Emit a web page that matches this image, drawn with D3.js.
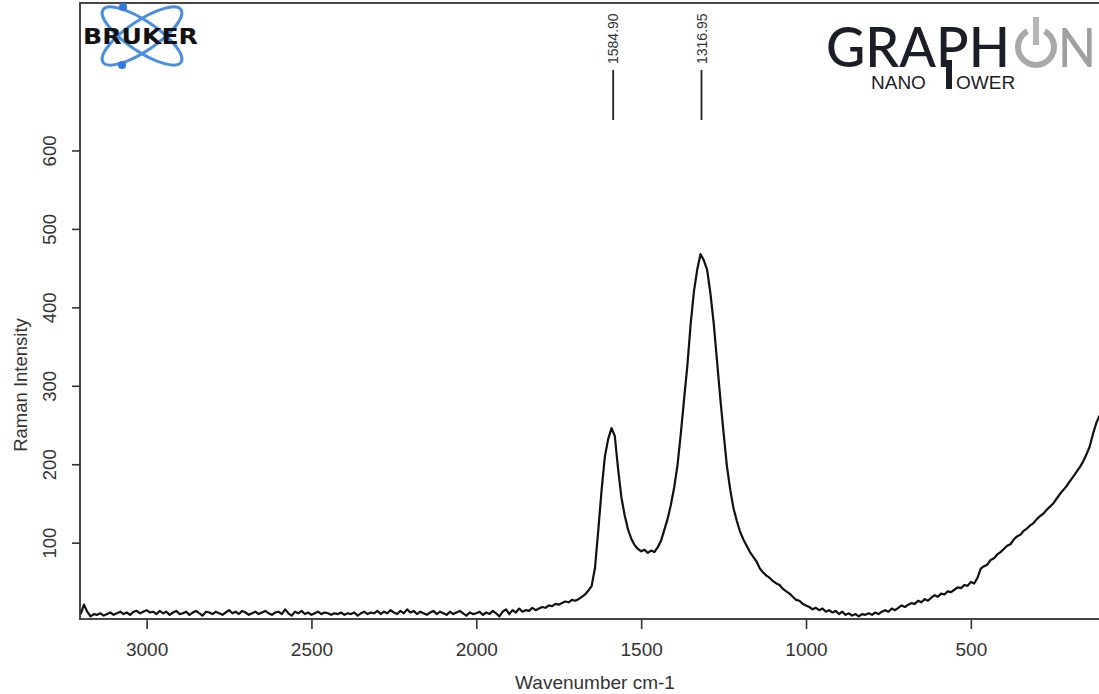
<!DOCTYPE html>
<html>
<head>
<meta charset="utf-8">
<script src="https://cdn.jsdelivr.net/npm/d3@7"></script>
<style>
  body { margin: 0; background: #fff; }
  svg { display: block; font-family: "Liberation Sans", Arial, sans-serif; }
</style>
</head>
<body>
<div id="chart"></div>
<script>
// Raman spectrum, sampled every 10 cm-1 from 3200 down to 110
const firstWavenumber = 3200;
const wavenumberStep = -10;

const intensity = [
  // 3200 - 3010
  9, 21, 12, 6, 9, 8, 10, 7, 9, 11, 8, 10, 12, 9, 11, 8, 12, 13, 10, 12,
  // 3000 - 2810
  14, 11, 12, 9, 13, 10, 12, 8, 11, 13, 9, 10, 12, 8, 11, 13, 10, 7, 12, 11,
  // 2800 - 2610
  9, 12, 10, 8, 11, 14, 10, 12, 9, 13, 11, 8, 10, 12, 9, 11, 13, 10, 8, 11,
  // 2600 - 2410
  12, 9, 15, 10, 7, 12, 10, 13, 9, 11, 8, 10, 12, 9, 11, 10, 8, 10, 9, 11,
  // 2400 - 2210
  8, 10, 9, 11, 7, 10, 12, 9, 11, 10, 13, 9, 12, 10, 14, 11, 9, 13, 10, 15,
  // 2200 - 2010
  11, 13, 9, 12, 10, 8, 11, 13, 9, 12, 10, 8, 12, 9, 11, 13, 10, 7, 11, 9,
  // 2000 - 1810
  10, 12, 8, 11, 9, 13, 10, 6, 12, 15, 9, 14, 11, 16, 12, 14, 13, 17, 14, 16,
  // 1800 - 1660
  18, 17, 20, 19, 22, 21, 23, 25, 24, 27, 26, 28, 31, 34, 39,
  // 1650 - 1510 (G band)
  45, 68, 116, 167, 210, 232, 246, 236, 194, 158, 135, 117, 105, 97, 92,
  // 1500 - 1410
  89, 91, 87, 90, 88, 94, 102, 116, 130, 148,
  // 1400 - 1010 (D band)
  170, 198, 238, 282, 325, 378, 420, 448, 468, 460,
  448, 418, 380, 332, 284, 240, 198, 168, 144, 128,
  114, 104, 96, 88, 82, 76, 67, 62, 58, 55,
  51, 48, 46, 41, 38, 35, 31, 27, 26, 22,
  // 1000 - 610
  20, 18, 15, 17, 14, 16, 12, 14, 11, 13,
  9, 12, 8, 10, 7, 9, 6, 9, 8, 10,
  8, 11, 9, 12, 14, 12, 16, 14, 17, 20,
  18, 21, 23, 22, 26, 24, 28, 26, 30, 33,
  // 600 - 110
  31, 35, 34, 38, 37, 40, 43, 42, 46, 45,
  50, 48, 55, 67, 70, 72, 78, 80, 85, 88,
  92, 96, 98, 104, 108, 110, 115, 118, 122, 125,
  130, 134, 137, 142, 146, 150, 156, 162, 167, 172,
  178, 184, 190, 196, 203, 212, 222, 238, 252, 262
];

const xTicks = [3000, 2500, 2000, 1500, 1000, 500];
const yTicks = [100, 200, 300, 400, 500, 600];
const peakLabels = ["1584.90", "1316.95"];

const data = intensity.map((v, i) => ({
  x: firstWavenumber + i * wavenumberStep,
  y: v
}));

// Graph dimensions
const width = 1099;
const height = 694;
const plot = { left: 80, right: 1110, top: 3, bottom: 619 };

const xScale = d3.scaleLinear().domain([3202, 78]).range([plot.left, plot.right]);
const yScale = d3.scaleLinear().domain([2.7, 788]).range([plot.bottom, plot.top]);

const svg = d3.select("#chart").append("svg")
  .attr("width", width)
  .attr("height", height);

svg.append("rect").attr("width", width).attr("height", height).attr("fill", "#fff");

// spectrum line
const line = d3.line().x((d) => xScale(d.x)).y((d) => yScale(d.y));
svg.append("path")
  .datum(data)
  .attr("d", line)
  .attr("fill", "none")
  .attr("stroke", "#111")
  .attr("stroke-width", 2.2)
  .attr("stroke-linejoin", "round");

// X axis
const xAxis = svg.append("g")
  .attr("transform", `translate(0,${plot.bottom})`)
  .call(d3.axisBottom(xScale).tickValues(xTicks).tickSize(10).tickPadding(14).tickFormat(d3.format("d")));
xAxis.select(".domain").remove();
xAxis.selectAll(".tick line").attr("stroke", "#333").attr("stroke-width", 1.6);
xAxis.selectAll(".tick text")
  .attr("fill", "#333")
  .attr("font-size", 19)
  .attr("font-family", "Liberation Sans, Arial, sans-serif");

// Y axis
const yAxis = svg.append("g")
  .attr("transform", `translate(${plot.left},0)`)
  .call(d3.axisLeft(yScale).tickValues(yTicks).tickSize(8).tickFormat(d3.format("d")));
yAxis.select(".domain").remove();
yAxis.selectAll(".tick line").attr("stroke", "#333").attr("stroke-width", 1.6);
yAxis.selectAll(".tick text")
  .attr("fill", "#333")
  .attr("font-size", 18.5)
  .attr("font-family", "Liberation Sans, Arial, sans-serif")
  .attr("text-anchor", "middle")
  .attr("dy", null)
  .attr("x", null)
  .attr("transform", "translate(-24,0) rotate(-90)");

// plot box
svg.append("rect")
  .attr("x", plot.left)
  .attr("y", plot.top)
  .attr("width", plot.right - plot.left)
  .attr("height", plot.bottom - plot.top)
  .attr("fill", "none")
  .attr("stroke", "#333")
  .attr("stroke-width", 1.8);

// axis titles
svg.append("text")
  .attr("x", (plot.left + plot.right) / 2)
  .attr("y", 689)
  .attr("text-anchor", "middle")
  .attr("font-size", 19)
  .attr("fill", "#333")
  .text("Wavenumber cm-1");

svg.append("text")
  .attr("transform", "translate(27,385) rotate(-90)")
  .attr("text-anchor", "middle")
  .attr("font-size", 18.5)
  .attr("fill", "#333")
  .text("Raman Intensity");

// peak annotations
const peaks = svg.append("g").selectAll("g")
  .data(peakLabels)
  .enter()
  .append("g")
  .attr("transform", (d) => `translate(${xScale(+d)},0)`);
peaks.append("line")
  .attr("y1", 70).attr("y2", 120)
  .attr("stroke", "#222").attr("stroke-width", 1.8);
peaks.append("text")
  .attr("transform", "translate(5,64) rotate(-90)")
  .attr("text-anchor", "start")
  .attr("font-size", 14)
  .attr("fill", "#333")
  .text((d) => d);

// BRUKER logo
const bruker = svg.append("g").attr("transform", "translate(142,36)");
[-34, 34].forEach((a) => {
  bruker.append("ellipse")
    .attr("rx", 47).attr("ry", 15)
    .attr("transform", `rotate(${a})`)
    .attr("fill", "none")
    .attr("stroke", "#4a8ee0")
    .attr("stroke-width", 3);
});
bruker.append("circle").attr("cx", -19).attr("cy", -29).attr("r", 4).attr("fill", "#2f7ae0");
bruker.append("circle").attr("cx", -20).attr("cy", 29).attr("r", 4).attr("fill", "#2f7ae0");
bruker.append("text")
  .attr("x", -59).attr("y", 8)
  .attr("font-size", 21)
  .attr("font-weight", "bold")
  .attr("font-family", "DejaVu Sans, sans-serif")
  .attr("textLength", 115)
  .attr("lengthAdjust", "spacingAndGlyphs")
  .attr("fill", "#111")
  .text("BRUKER");

// GRAPHON logo
const logo = svg.append("g");
logo.append("text")
  .attr("x", 826).attr("y", 67)
  .attr("font-size", 56)
  .attr("font-family", "Lato, sans-serif")
  .attr("font-weight", 500)
  .attr("textLength", 184)
  .attr("lengthAdjust", "spacingAndGlyphs")
  .attr("fill", "#1c1e27")
  .text("GRAPH");
logo.append("path")
  .attr("d", d3.arc()({ innerRadius: 15, outerRadius: 21, startAngle: 0.5, endAngle: 2 * Math.PI - 0.5 }))
  .attr("transform", "translate(1036,47)")
  .attr("fill", "#a8a8a8");
logo.append("rect")
  .attr("x", 1033).attr("y", 17).attr("width", 6).attr("height", 28)
  .attr("fill", "#b5b5b5");
logo.append("text")
  .attr("x", 1058).attr("y", 67)
  .attr("font-size", 54)
  .attr("font-family", "Lato, sans-serif")
  .attr("font-weight", 500)
  .attr("textLength", 38)
  .attr("lengthAdjust", "spacingAndGlyphs")
  .attr("fill", "#a0a0a0")
  .text("N");
logo.append("text")
  .attr("x", 871).attr("y", 89)
  .attr("font-size", 19)
  .attr("font-family", "Liberation Sans, Arial, sans-serif")
  .attr("fill", "#1c1e27")
  .text("NANO");
logo.append("rect")
  .attr("x", 946).attr("y", 60).attr("width", 6).attr("height", 29)
  .attr("fill", "#1c1e27");
logo.append("text")
  .attr("x", 956).attr("y", 89)
  .attr("font-size", 19)
  .attr("font-family", "Liberation Sans, Arial, sans-serif")
  .attr("fill", "#1c1e27")
  .text("OWER");
</script>
</body>
</html>
